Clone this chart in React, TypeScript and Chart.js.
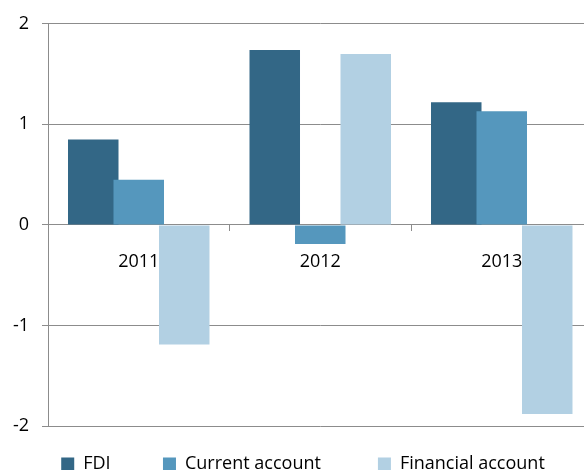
import { useEffect, useRef } from 'react';
import { Chart, registerables } from 'chart.js';

Chart.register(...registerables);

const categories = ['2011', '2012', '2013'];
const fdi = [0.85, 1.74, 1.22];
const currentAccount = [0.45, -0.19, 1.13];
const financialAccount = [-1.19, 1.7, -1.88];
const seriesNames = ['FDI', 'Current account', 'Financial account'];
const seriesColors = ['#336786', '#5597bd', '#b2d0e3'];
const yMin = -2;
const yMax = 2;
const yStep = 1;

// trailing spaces used to reproduce the legend's item spacing
const legendGapSpaces = [5, 6, 4];

const FONT = "'Open Sans', 'DejaVu Sans', sans-serif";

// draw datasets in forward order so later series overlap earlier ones (as in the reference)
const forwardOrder = {
  id: 'forwardOrder',
  beforeDatasetDraw() {
    return false;
  },
  afterDatasetsDraw(chart: any) {
    const { ctx, chartArea } = chart;
    ctx.save();
    ctx.beginPath();
    ctx.rect(chartArea.left, chartArea.top, chartArea.right - chartArea.left, chartArea.bottom - chartArea.top);
    ctx.clip();
    const n = chart.data.datasets.length;
    for (let i = 0; i < n; i++) {
      const meta = chart.getDatasetMeta(i);
      if (meta && meta.visible !== false) meta.controller.draw();
    }
    ctx.restore();
  },
};

export default function App() {
  const ref = useRef<HTMLCanvasElement | null>(null);

  useEffect(() => {
    if (!ref.current) return;
    const seriesData = [fdi, currentAccount, financialAccount];
    const chart = new Chart(ref.current, {
      type: 'bar',
      data: {
        labels: categories,
        datasets: seriesNames.map((name, i) => ({
          label: name,
          data: seriesData[i],
          backgroundColor: seriesColors[i],
          borderWidth: 0,
          barPercentage: 1.11,
          categoryPercentage: 0.752,
        })),
      },
      options: {
        responsive: false,
        animation: false,
        events: [],
        layout: { padding: { left: 0, right: 7.5, top: 22, bottom: 0 } },
        scales: {
          x: {
            type: 'category',
            position: { y: 0 } as any,
            grid: {
              display: true,
              drawOnChartArea: false,
              drawTicks: true,
              tickLength: 6,
              offset: true,
              color: '#8c8c8c',
              lineWidth: 1,
            },
            border: { display: true, color: '#8c8c8c', width: 1 },
            ticks: {
              color: '#000',
              padding: 20,
              font: { family: FONT, size: 18 },
              maxRotation: 0,
              autoSkip: false,
            },
          },
          y: {
            type: 'linear',
            min: yMin,
            max: yMax,
            afterFit(scale: any) {
              scale.width = 48;
            },
            grid: {
              color: '#8c8c8c',
              lineWidth: 1,
              tickLength: 6,
              drawTicks: true,
            },
            border: { display: true, color: '#8c8c8c', width: 1 },
            ticks: {
              stepSize: yStep,
              color: '#000',
              padding: 13,
              font: { family: FONT, size: 18 },
            },
          },
        },
        plugins: {
          tooltip: { enabled: false },
          title: { display: false },
          legend: {
            display: true,
            position: 'bottom',
            align: 'end',
            labels: {
              boxWidth: 13,
              boxHeight: 13,
              padding: 29,
              color: '#000',
              font: { family: FONT, size: 18 },
              generateLabels(c: any) {
                const items = Chart.defaults.plugins.legend.labels.generateLabels(c);
                return items.map((it: any, i: number) => ({
                  ...it,
                  text: it.text + ' '.repeat(legendGapSpaces[i] || 0),
                  lineWidth: 0,
                  strokeStyle: 'transparent',
                }));
              },
            },
          },
        },
      },
      plugins: [forwardOrder],
    });
    return () => chart.destroy();
  }, []);

  return (
    <div
      style={{
        position: 'fixed',
        left: 0,
        top: 0,
        width: 584,
        height: 470,
        overflow: 'hidden',
        background: '#fff',
      }}
    >
      <canvas ref={ref} width={600} height={483} style={{ display: 'block' }} />
    </div>
  );
}
